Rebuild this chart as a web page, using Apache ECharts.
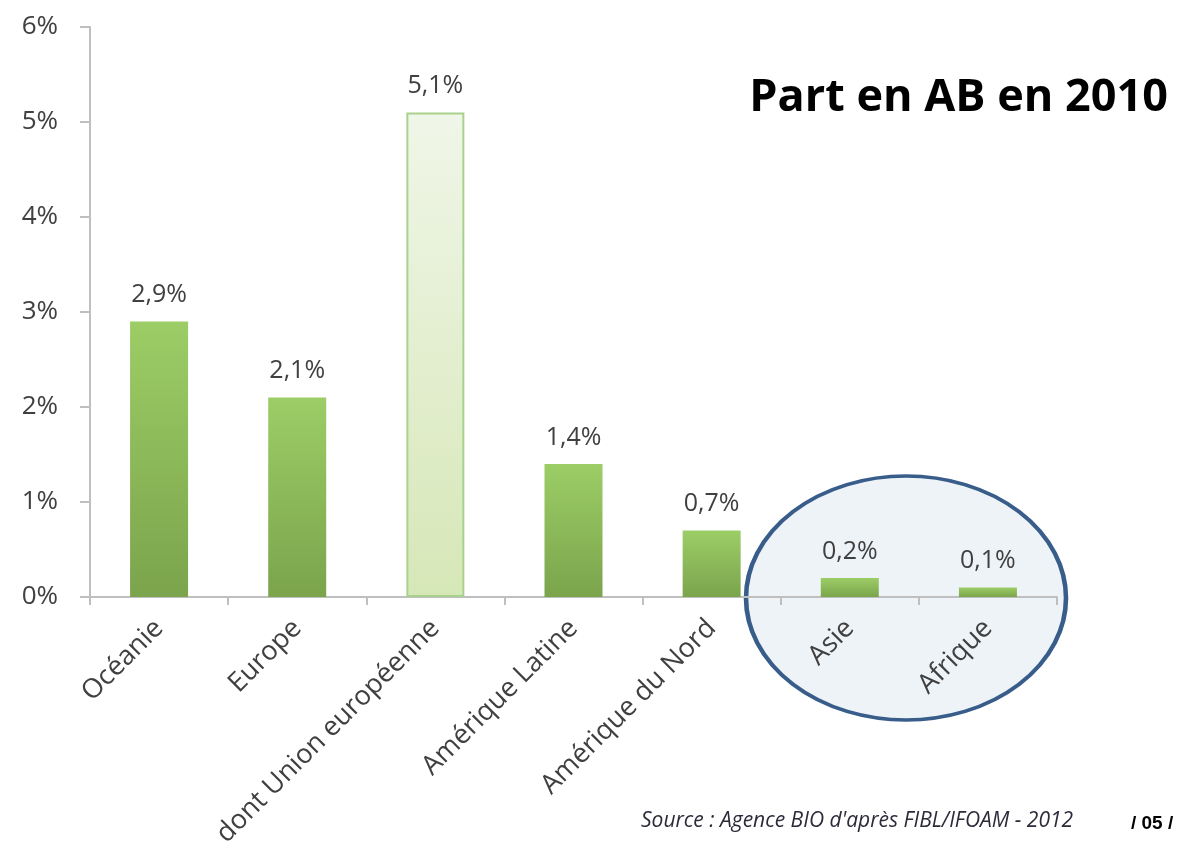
<!DOCTYPE html>
<html>
<head>
<meta charset="utf-8">
<script src="https://cdn.jsdelivr.net/npm/echarts@6/dist/echarts.min.js"></script>
<style>
  html, body { margin: 0; padding: 0; background: #fff; }
  #chart { width: 1182px; height: 850px; }
</style>
</head>
<body>
<div id="chart"></div>
<script>
// part de la surface en AB par région (2010)
const categories = ['Océanie', 'Europe', 'dont Union européenne', 'Amérique Latine', 'Amérique du Nord', 'Asie', 'Afrique']
const parts = [2.9, 2.1, 5.1, 1.4, 0.7, 0.2, 0.1]
const yTicks = [0, 1, 2, 3, 4, 5, 6]
const subRegion = 'dont Union européenne'

const font = '"Open Sans", "DejaVu Sans", sans-serif'
const txt = '#404040'

const greenBar = new echarts.graphic.LinearGradient(0, 0, 0, 1, [
  { offset: 0, color: '#9ccd66' },
  { offset: 1, color: '#7ba44c' }
])
const paleBar = new echarts.graphic.LinearGradient(0, 0, 0, 1, [
  { offset: 0, color: '#f0f6e8' },
  { offset: 1, color: '#d6e7b7' }
])

const myChart = echarts.init(document.getElementById('chart'))
myChart.setOption({
  animation: false,
  grid: { left: 90, right: 125, top: 27, bottom: 253 },
  xAxis: {
    type: 'category',
    data: categories,
    axisLine: { lineStyle: { color: '#bfbfbf', width: 2 } },
    axisTick: { show: true, length: 8, alignWithLabel: false, lineStyle: { color: '#bfbfbf', width: 2 } },
    axisLabel: {
      interval: 0,
      rotate: 45,
      margin: 27,
      fontFamily: font,
      fontSize: 27,
      color: txt
    }
  },
  yAxis: {
    type: 'value',
    min: yTicks[0],
    max: yTicks[yTicks.length - 1],
    interval: 1,
    splitLine: { show: false },
    axisLine: { show: true, lineStyle: { color: '#bfbfbf', width: 2 } },
    axisTick: { show: true, length: 10, lineStyle: { color: '#bfbfbf', width: 2 } },
    axisLabel: {
      margin: 32,
      fontFamily: font,
      fontSize: 26,
      color: txt,
      formatter: v => v + '%'
    }
  },
  graphic: [
    {
      type: 'circle',
      z: -10,
      silent: true,
      x: 906, y: 598,
      scaleX: 160 / 122,
      shape: { cx: 0, cy: 0, r: 122 },
      style: { fill: '#eef3f8', stroke: '#395d8a', lineWidth: 3.5, strokeNoScale: true }
    },
    {
      type: 'text',
      right: 14, top: 76,
      style: { text: 'Part en AB en 2010', font: 'bold 45px "Open Sans", "Liberation Sans", sans-serif', fill: '#000' }
    },
    {
      type: 'text',
      left: 641, top: 811,
      style: { text: "Source : Agence BIO d'après FIBL/IFOAM - 2012", font: 'italic 21px "Open Sans", sans-serif', fill: '#2b2b3a' }
    },
    {
      type: 'text',
      left: 1131, top: 814,
      style: { text: '/ 05 /', font: 'bold 19px "Liberation Sans", sans-serif', fill: '#000' }
    }
  ],
  series: [
    {
      type: 'bar',
      barWidth: 58,
      z: 5,
      data: parts.map((v, i) => categories[i] === subRegion
        ? { value: v, itemStyle: { color: paleBar, borderColor: '#a9d18e', borderWidth: 2 } }
        : { value: v, itemStyle: { color: greenBar } }),
      label: {
        show: true,
        position: 'top',
        distance: 14,
        fontFamily: font,
        fontSize: 25,
        color: txt,
        formatter: p => p.value.toFixed(1).replace('.', ',') + '%'
      }
    }
  ]
})
</script>
</body>
</html>
